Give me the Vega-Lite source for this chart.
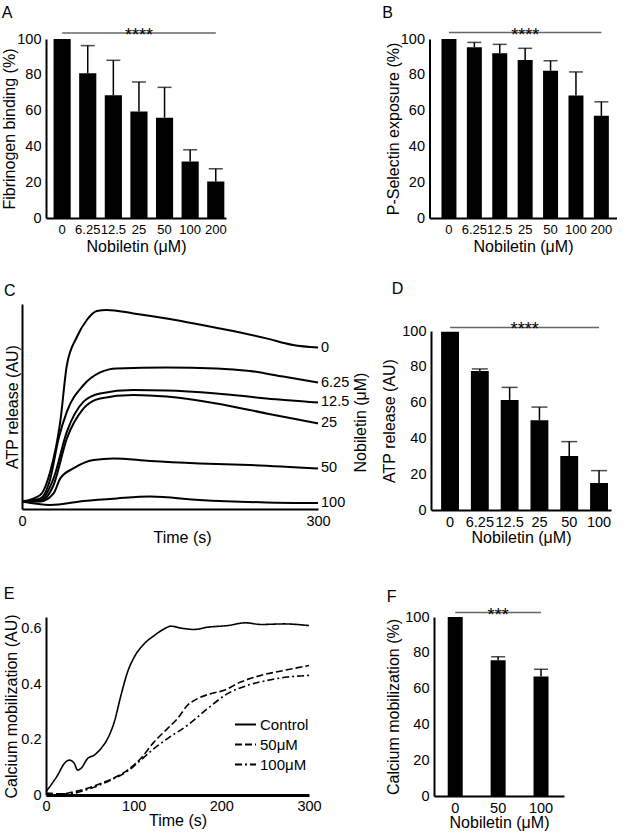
{
  "$schema": "https://vega.github.io/schema/vega-lite/v6.json",
  "padding": {"left": 1, "top": 4, "right": 0, "bottom": 0},
  "background": "white",
  "config": {
    "font": "Liberation Sans",
    "view": {"stroke": null},
    "axis": {"domainColor": "black", "domainWidth": 2, "ticks": false, "grid": false, "labelColor": "black", "titleColor": "black", "labelFontSize": 14.5, "titleFontSize": 16, "titleFontWeight": "normal", "labelFont": "Liberation Sans", "titleFont": "Liberation Sans", "labelPadding": 5, "titlePadding": 4, "labelAngle": 0, "labelFlush": false, "labelOverlap": false, "minExtent": 0},
    "axisY": {"labelOverlap": false},
    "axisQuantitative": {"labelOverlap": false},
    "title": {"anchor": "start", "frame": "bounds", "fontSize": 16, "fontWeight": "normal", "font": "Liberation Sans", "color": "black"},
    "text": {"font": "Liberation Sans", "color": "black"}
  },
  "datasets": {
    "fib": [
      {"dose": "0", "mean": 100, "upper": null},
      {"dose": "6.25", "mean": 80.9, "upper": 96.3},
      {"dose": "12.5", "mean": 68.6, "upper": 88.1},
      {"dose": "25", "mean": 59.5, "upper": 76.0},
      {"dose": "50", "mean": 56.0, "upper": 73.0},
      {"dose": "100", "mean": 31.6, "upper": 38.1},
      {"dose": "200", "mean": 20.4, "upper": 27.5}
    ],
    "psel": [
      {"dose": "0", "mean": 100, "upper": null},
      {"dose": "6.25", "mean": 95.4, "upper": 98.1},
      {"dose": "12.5", "mean": 92.0, "upper": 97.0},
      {"dose": "25", "mean": 88.3, "upper": 94.8},
      {"dose": "50", "mean": 82.3, "upper": 87.9},
      {"dose": "100", "mean": 68.4, "upper": 81.6},
      {"dose": "200", "mean": 57.1, "upper": 64.9}
    ],
    "atpbar": [
      {"dose": "0", "mean": 99.6, "upper": null},
      {"dose": "6.25", "mean": 77.6, "upper": 78.8},
      {"dose": "12.5", "mean": 61.5, "upper": 68.5},
      {"dose": "25", "mean": 50.1, "upper": 57.5},
      {"dose": "50", "mean": 30.2, "upper": 38.2},
      {"dose": "100", "mean": 15.1, "upper": 22.0}
    ],
    "cabar": [
      {"dose": "0", "mean": 100, "upper": null},
      {"dose": "50", "mean": 75.8, "upper": 77.8},
      {"dose": "100", "mean": 66.7, "upper": 70.8}
    ],
    "sigA": [{"start": "0", "end": "200", "mid": "25", "y": 103.4, "stars": "****"}],
    "sigB": [{"start": "0", "end": "200", "mid": "25", "y": 103.6, "stars": "****"}],
    "sigD": [{"start": "0", "end": "100", "mid": "12.5", "y": 102.0, "stars": "****"}],
    "sigF": [{"start": "0", "end": "100", "mid": "50", "y": 102.5, "stars": "***"}],
    "atp": [
      {"dose": "0", "t": 0, "v": 3.7}, {"dose": "0", "t": 18.5, "v": 7}, {"dose": "0", "t": 28.6, "v": 18.7}, {"dose": "0", "t": 38.8, "v": 43.7}, {"dose": "0", "t": 45.5, "v": 72}, {"dose": "0", "t": 55.6, "v": 86}, {"dose": "0", "t": 65.7, "v": 94.5}, {"dose": "0", "t": 75.8, "v": 99}, {"dose": "0", "t": 86, "v": 99.5}, {"dose": "0", "t": 113, "v": 97.8}, {"dose": "0", "t": 146.6, "v": 95.3}, {"dose": "0", "t": 180, "v": 92.3}, {"dose": "0", "t": 214, "v": 89}, {"dose": "0", "t": 247.7, "v": 85.3}, {"dose": "0", "t": 274.7, "v": 82}, {"dose": "0", "t": 300, "v": 80.7},
      {"dose": "6.25", "t": 0, "v": 3.7}, {"dose": "6.25", "t": 18.5, "v": 5.3}, {"dose": "6.25", "t": 28.6, "v": 15}, {"dose": "6.25", "t": 37, "v": 35}, {"dose": "6.25", "t": 45.5, "v": 48.7}, {"dose": "6.25", "t": 62.4, "v": 62}, {"dose": "6.25", "t": 79.2, "v": 68.3}, {"dose": "6.25", "t": 96, "v": 70.3}, {"dose": "6.25", "t": 146.6, "v": 70.7}, {"dose": "6.25", "t": 197, "v": 70.3}, {"dose": "6.25", "t": 231, "v": 69}, {"dose": "6.25", "t": 264.6, "v": 66.2}, {"dose": "6.25", "t": 300, "v": 63.2},
      {"dose": "12.5", "t": 0, "v": 3.7}, {"dose": "12.5", "t": 18.5, "v": 4.5}, {"dose": "12.5", "t": 32, "v": 15.3}, {"dose": "12.5", "t": 45.5, "v": 38.7}, {"dose": "12.5", "t": 62.4, "v": 53.7}, {"dose": "12.5", "t": 79.2, "v": 57.8}, {"dose": "12.5", "t": 113, "v": 59.5}, {"dose": "12.5", "t": 146.6, "v": 59.3}, {"dose": "12.5", "t": 197, "v": 57.8}, {"dose": "12.5", "t": 247.7, "v": 55.3}, {"dose": "12.5", "t": 300, "v": 53.3},
      {"dose": "25", "t": 0, "v": 3.7}, {"dose": "25", "t": 18.5, "v": 4}, {"dose": "25", "t": 32, "v": 12}, {"dose": "25", "t": 45.5, "v": 35.3}, {"dose": "25", "t": 62.4, "v": 50.3}, {"dose": "25", "t": 79.2, "v": 55.3}, {"dose": "25", "t": 113, "v": 57}, {"dose": "25", "t": 146.6, "v": 56.2}, {"dose": "25", "t": 197, "v": 52.8}, {"dose": "25", "t": 247.7, "v": 47.8}, {"dose": "25", "t": 300, "v": 42.8},
      {"dose": "50", "t": 0, "v": 3.7}, {"dose": "50", "t": 18.5, "v": 3.7}, {"dose": "50", "t": 32, "v": 7.8}, {"dose": "50", "t": 38.8, "v": 15.3}, {"dose": "50", "t": 52, "v": 20.3}, {"dose": "50", "t": 72.5, "v": 24.5}, {"dose": "50", "t": 92.7, "v": 25.3}, {"dose": "50", "t": 129.8, "v": 24}, {"dose": "50", "t": 180, "v": 22.8}, {"dose": "50", "t": 231, "v": 22}, {"dose": "50", "t": 300, "v": 20.3},
      {"dose": "100", "t": 0, "v": 3.7}, {"dose": "100", "t": 28.6, "v": 2}, {"dose": "100", "t": 62.4, "v": 4}, {"dose": "100", "t": 96, "v": 5.3}, {"dose": "100", "t": 129.8, "v": 6.2}, {"dose": "100", "t": 180, "v": 4.5}, {"dose": "100", "t": 247.7, "v": 3.3}, {"dose": "100", "t": 300, "v": 3}
    ],
    "ca": [
      {"series": "Control", "t": 0, "v": 0.012}, {"series": "Control", "t": 5.7, "v": 0.036}, {"series": "Control", "t": 13.3, "v": 0.072}, {"series": "Control", "t": 20.9, "v": 0.114}, {"series": "Control", "t": 26.6, "v": 0.126}, {"series": "Control", "t": 32.3, "v": 0.114}, {"series": "Control", "t": 36, "v": 0.09}, {"series": "Control", "t": 39.9, "v": 0.096}, {"series": "Control", "t": 47.5, "v": 0.132}, {"series": "Control", "t": 55, "v": 0.144}, {"series": "Control", "t": 62.7, "v": 0.168}, {"series": "Control", "t": 70.3, "v": 0.204}, {"series": "Control", "t": 77.9, "v": 0.264}, {"series": "Control", "t": 85.5, "v": 0.36}, {"series": "Control", "t": 93, "v": 0.444}, {"series": "Control", "t": 100.6, "v": 0.498}, {"series": "Control", "t": 112, "v": 0.546}, {"series": "Control", "t": 123.4, "v": 0.576}, {"series": "Control", "t": 134.8, "v": 0.6}, {"series": "Control", "t": 142.4, "v": 0.61}, {"series": "Control", "t": 153.8, "v": 0.603}, {"series": "Control", "t": 169, "v": 0.598}, {"series": "Control", "t": 184.2, "v": 0.606}, {"series": "Control", "t": 207, "v": 0.612}, {"series": "Control", "t": 227.9, "v": 0.622}, {"series": "Control", "t": 245, "v": 0.616}, {"series": "Control", "t": 271.5, "v": 0.618}, {"series": "Control", "t": 300, "v": 0.612},
      {"series": "50μM", "t": 0, "v": 0.006}, {"series": "50μM", "t": 17, "v": 0.004}, {"series": "50μM", "t": 32.3, "v": 0.012}, {"series": "50μM", "t": 47.5, "v": 0.024}, {"series": "50μM", "t": 62.7, "v": 0.042}, {"series": "50μM", "t": 77.9, "v": 0.062}, {"series": "50μM", "t": 93, "v": 0.09}, {"series": "50μM", "t": 108, "v": 0.132}, {"series": "50μM", "t": 123.4, "v": 0.192}, {"series": "50μM", "t": 138.6, "v": 0.24}, {"series": "50μM", "t": 150, "v": 0.276}, {"series": "50μM", "t": 161.4, "v": 0.324}, {"series": "50μM", "t": 172.8, "v": 0.348}, {"series": "50μM", "t": 188, "v": 0.366}, {"series": "50μM", "t": 203, "v": 0.378}, {"series": "50μM", "t": 222, "v": 0.408}, {"series": "50μM", "t": 245, "v": 0.432}, {"series": "50μM", "t": 271.5, "v": 0.45}, {"series": "50μM", "t": 300, "v": 0.468},
      {"series": "100μM", "t": 0, "v": 0.006}, {"series": "100μM", "t": 24.7, "v": 0.004}, {"series": "100μM", "t": 47.5, "v": 0.02}, {"series": "100μM", "t": 62.7, "v": 0.038}, {"series": "100μM", "t": 77.9, "v": 0.06}, {"series": "100μM", "t": 93, "v": 0.086}, {"series": "100μM", "t": 108, "v": 0.126}, {"series": "100μM", "t": 123.4, "v": 0.168}, {"series": "100μM", "t": 138.6, "v": 0.204}, {"series": "100μM", "t": 161.4, "v": 0.252}, {"series": "100μM", "t": 184.2, "v": 0.312}, {"series": "100μM", "t": 207, "v": 0.366}, {"series": "100μM", "t": 229.8, "v": 0.396}, {"series": "100μM", "t": 252.6, "v": 0.414}, {"series": "100μM", "t": 275.3, "v": 0.426}, {"series": "100μM", "t": 300, "v": 0.432}
    ]
  },
  "spacing": 27,
  "resolve": {"legend": {"strokeDash": "independent"}},
  "vconcat": [
    {
      "spacing": 154.5,
      "hconcat": [
        {
          "title": {"text": "A", "offset": 6},
          "width": 180, "height": 179,
          "layer": [
            {"data": {"name": "fib"}, "mark": {"type": "bar", "color": "black"},
             "encoding": {
               "x": {"field": "dose", "type": "nominal", "sort": null, "scale": {"domain": ["0","6.25","12.5","25","50","100","200"], "paddingInner": 0.33, "paddingOuter": 0.18, "align": 0.82}, "axis": {"title": "Nobiletin (μM)", "titlePadding": 2, "labelFontSize": 13, "labelOverlap": false}},
               "y": {"field": "mean", "type": "quantitative", "scale": {"domain": [0, 100], "nice": false}, "axis": {"title": "Fibrinogen binding (%)", "values": [0, 20, 40, 60, 80, 100], "titlePadding": -1, "labelOverlap": false}}
             }},
            {"data": {"name": "fib"}, "transform": [{"filter": "datum.upper != null"}], "mark": {"type": "rule", "strokeWidth": 1.5, "color": "black"},
             "encoding": {"x": {"field": "dose", "type": "nominal", "sort": null, "axis": {"title": "Nobiletin (μM)", "titlePadding": 2, "labelFontSize": 13, "labelOverlap": false}}, "y": {"field": "mean", "type": "quantitative", "axis": {"title": "Fibrinogen binding (%)", "values": [0, 20, 40, 60, 80, 100], "titlePadding": -1, "labelOverlap": false}}, "y2": {"field": "upper"}}},
            {"data": {"name": "fib"}, "transform": [{"filter": "datum.upper != null"}], "mark": {"type": "tick", "thickness": 1.5, "size": 14, "color": "black"},
             "encoding": {"x": {"field": "dose", "type": "nominal", "sort": null, "axis": {"title": "Nobiletin (μM)", "titlePadding": 2, "labelFontSize": 13, "labelOverlap": false}}, "y": {"field": "upper", "type": "quantitative", "axis": {"title": "Fibrinogen binding (%)", "values": [0, 20, 40, 60, 80, 100], "titlePadding": -1, "labelOverlap": false}}}},
            {"data": {"name": "sigA"}, "mark": {"type": "rule", "color": "#666666", "strokeWidth": 1.5},
             "encoding": {"x": {"field": "start", "type": "nominal", "sort": null, "axis": {"title": "Nobiletin (μM)", "titlePadding": 2, "labelFontSize": 13, "labelOverlap": false}}, "x2": {"field": "end"}, "y": {"field": "y", "type": "quantitative", "axis": {"title": "Fibrinogen binding (%)", "values": [0, 20, 40, 60, 80, 100], "titlePadding": -1, "labelOverlap": false}}}},
            {"data": {"name": "sigA"}, "mark": {"type": "text", "fontSize": 18, "baseline": "alphabetic", "dy": 8},
             "encoding": {"x": {"field": "mid", "type": "nominal", "sort": null, "axis": {"title": "Nobiletin (μM)", "titlePadding": 2, "labelFontSize": 13, "labelOverlap": false}}, "y": {"field": "y", "type": "quantitative", "axis": {"title": "Fibrinogen binding (%)", "values": [0, 20, 40, 60, 80, 100], "titlePadding": -1, "labelOverlap": false}}, "text": {"field": "stars"}}}
          ]
        },
        {
          "title": {"text": "B", "offset": 6, "dx": -3},
          "width": 187, "height": 179,
          "layer": [
            {"data": {"name": "psel"}, "mark": {"type": "bar", "color": "black"},
             "encoding": {
               "x": {"field": "dose", "type": "nominal", "sort": null, "scale": {"domain": ["0","6.25","12.5","25","50","100","200"], "paddingInner": 0.41, "paddingOuter": 0.386, "align": 0.61}, "axis": {"title": "Nobiletin (μM)", "titlePadding": 2, "labelFontSize": 13, "labelOverlap": false}},
               "y": {"field": "mean", "type": "quantitative", "scale": {"domain": [0, 100], "nice": false}, "axis": {"title": "P-Selectin exposure (%)", "values": [0, 20, 40, 60, 80, 100], "titlePadding": -1, "labelOverlap": false}}
             }},
            {"data": {"name": "psel"}, "transform": [{"filter": "datum.upper != null"}], "mark": {"type": "rule", "strokeWidth": 1.5, "color": "black"},
             "encoding": {"x": {"field": "dose", "type": "nominal", "sort": null, "axis": {"title": "Nobiletin (μM)", "titlePadding": 2, "labelFontSize": 13, "labelOverlap": false}}, "y": {"field": "mean", "type": "quantitative", "axis": {"title": "P-Selectin exposure (%)", "values": [0, 20, 40, 60, 80, 100], "titlePadding": -1, "labelOverlap": false}}, "y2": {"field": "upper"}}},
            {"data": {"name": "psel"}, "transform": [{"filter": "datum.upper != null"}], "mark": {"type": "tick", "thickness": 1.5, "size": 14, "color": "black"},
             "encoding": {"x": {"field": "dose", "type": "nominal", "sort": null, "axis": {"title": "Nobiletin (μM)", "titlePadding": 2, "labelFontSize": 13, "labelOverlap": false}}, "y": {"field": "upper", "type": "quantitative", "axis": {"title": "P-Selectin exposure (%)", "values": [0, 20, 40, 60, 80, 100], "titlePadding": -1, "labelOverlap": false}}}},
            {"data": {"name": "sigB"}, "mark": {"type": "rule", "color": "#666666", "strokeWidth": 1.5},
             "encoding": {"x": {"field": "start", "type": "nominal", "sort": null, "axis": {"title": "Nobiletin (μM)", "titlePadding": 2, "labelFontSize": 13, "labelOverlap": false}}, "x2": {"field": "end"}, "y": {"field": "y", "type": "quantitative", "axis": {"title": "P-Selectin exposure (%)", "values": [0, 20, 40, 60, 80, 100], "titlePadding": -1, "labelOverlap": false}}}},
            {"data": {"name": "sigB"}, "mark": {"type": "text", "fontSize": 18, "baseline": "alphabetic", "dy": 8},
             "encoding": {"x": {"field": "mid", "type": "nominal", "sort": null, "axis": {"title": "Nobiletin (μM)", "titlePadding": 2, "labelFontSize": 13, "labelOverlap": false}}, "y": {"field": "y", "type": "quantitative", "axis": {"title": "P-Selectin exposure (%)", "values": [0, 20, 40, 60, 80, 100], "titlePadding": -1, "labelOverlap": false}}, "text": {"field": "stars"}}}
          ]
        }
      ]
    },
    {
      "spacing": 39,
      "resolve": {"legend": {"strokeDash": "independent"}},
      "vconcat": [
        {
          "spacing": 13,
          "hconcat": [
            {
              "title": {"text": "C", "offset": 7},
              "width": 272, "height": 178,
              "data": {"name": "atp"},
              "layer": [
                {"mark": {"type": "line", "color": "black", "strokeWidth": 2, "interpolate": "monotone"},
                 "encoding": {
                   "x": {"field": "t", "type": "quantitative", "scale": {"domain": [0, 300], "nice": false, "range": [-24, 272]}, "axis": {"title": "Time (s)", "values": [0, 300], "titlePadding": 2, "titleX": 136}},
                   "y": {"field": "v", "type": "quantitative", "scale": {"domain": [0, 102.5], "nice": false, "range": [178, -27]}, "axis": {"title": "ATP release (AU)", "labels": false, "titlePadding": 2, "offset": 24}},
                   "detail": {"field": "dose", "type": "nominal"}
                 }},
                {"transform": [{"filter": "datum.t == 300"}], "mark": {"type": "text", "align": "left", "baseline": "middle", "dx": 3, "fontSize": 14.5},
                 "encoding": {
                   "x": {"field": "t", "type": "quantitative", "axis": {"title": "Time (s)", "values": [0, 300], "titlePadding": 2, "titleX": 136}},
                   "y": {"field": "v", "type": "quantitative", "axis": {"orient": "right", "title": "Nobiletin (μM)", "labels": false, "domain": false, "titleAngle": 270, "titlePadding": 50, "titleY": 91}},
                   "text": {"field": "dose"}
                 }}
              ],
              "resolve": {"axis": {"y": "independent"}}
            },
            {
              "title": {"text": "D", "offset": 24, "dx": 10},
              "width": 180, "height": 179,
              "layer": [
                {"data": {"name": "atpbar"}, "mark": {"type": "bar", "color": "black"},
                 "encoding": {
                   "x": {"field": "dose", "type": "nominal", "sort": null, "scale": {"domain": ["0","6.25","12.5","25","50","100"], "paddingInner": 0.4, "paddingOuter": 0.22, "align": 0.77}, "axis": {"title": "Nobiletin (μM)", "titlePadding": 1, "labelOverlap": false}},
                   "y": {"field": "mean", "type": "quantitative", "scale": {"domain": [0, 100], "nice": false}, "axis": {"title": "ATP release (AU)", "values": [0, 20, 40, 60, 80, 100], "titlePadding": 4, "labelOverlap": false}}
                 }},
                {"data": {"name": "atpbar"}, "transform": [{"filter": "datum.upper != null"}], "mark": {"type": "rule", "strokeWidth": 1.5, "color": "black"},
                 "encoding": {"x": {"field": "dose", "type": "nominal", "sort": null, "axis": {"title": "Nobiletin (μM)", "titlePadding": 1, "labelOverlap": false}}, "y": {"field": "mean", "type": "quantitative", "axis": {"title": "ATP release (AU)", "values": [0, 20, 40, 60, 80, 100], "titlePadding": 4, "labelOverlap": false}}, "y2": {"field": "upper"}}},
                {"data": {"name": "atpbar"}, "transform": [{"filter": "datum.upper != null"}], "mark": {"type": "tick", "thickness": 1.5, "size": 16, "color": "black"},
                 "encoding": {"x": {"field": "dose", "type": "nominal", "sort": null, "axis": {"title": "Nobiletin (μM)", "titlePadding": 1, "labelOverlap": false}}, "y": {"field": "upper", "type": "quantitative", "axis": {"title": "ATP release (AU)", "values": [0, 20, 40, 60, 80, 100], "titlePadding": 4, "labelOverlap": false}}}},
                {"data": {"name": "sigD"}, "mark": {"type": "rule", "color": "#666666", "strokeWidth": 1.5},
                 "encoding": {"x": {"field": "start", "type": "nominal", "sort": null, "axis": {"title": "Nobiletin (μM)", "titlePadding": 1, "labelOverlap": false}}, "x2": {"field": "end"}, "y": {"field": "y", "type": "quantitative", "axis": {"title": "ATP release (AU)", "values": [0, 20, 40, 60, 80, 100], "titlePadding": 4, "labelOverlap": false}}}},
                {"data": {"name": "sigD"}, "mark": {"type": "text", "fontSize": 18, "baseline": "alphabetic", "dy": 8, "dx": 15},
                 "encoding": {"x": {"field": "mid", "type": "nominal", "sort": null, "axis": {"title": "Nobiletin (μM)", "titlePadding": 1, "labelOverlap": false}}, "y": {"field": "y", "type": "quantitative", "axis": {"title": "ATP release (AU)", "values": [0, 20, 40, 60, 80, 100], "titlePadding": 4, "labelOverlap": false}}, "text": {"field": "stars"}}}
              ]
            }
          ]
        },
        {
          "spacing": 63,
          "resolve": {"legend": {"strokeDash": "independent"}},
          "hconcat": [
            {
              "title": {"text": "E", "offset": 12},
              "width": 263, "height": 178,
              "data": {"name": "ca"},
              "mark": {"type": "line", "color": "black", "strokeWidth": 1.6, "interpolate": "monotone"},
              "encoding": {
                "x": {"field": "t", "type": "quantitative", "scale": {"domain": [0, 300], "nice": false}, "axis": {"title": "Time (s)", "values": [0, 100, 200, 300], "titlePadding": 0, "labelPadding": 4, "domainWidth": 3, "labelOverlap": false}},
                "y": {"field": "v", "type": "quantitative", "scale": {"domain": [0, 0.643], "nice": false}, "axis": {"title": "Calcium mobilization (AU)", "values": [0, 0.2, 0.4, 0.6], "format": ".1~f", "titlePadding": 1, "labelOverlap": false}},
                "strokeDash": {"field": "series", "type": "nominal", "scale": {"domain": ["Control", "50μM", "100μM"], "range": [[1, 0], [7, 3], [7, 3, 2, 3]]},
                  "legend": {"orient": "none", "legendX": 188, "legendY": 96, "title": null, "symbolType": "stroke", "symbolSize": 440, "symbolStrokeWidth": 2, "symbolStrokeColor": "black", "labelFontSize": 15, "labelFont": "Liberation Sans", "labelColor": "black", "rowPadding": 0, "labelOffset": 3}}
              }
            },
            {
              "title": {"text": "F", "offset": 2, "dx": 1},
              "width": 130, "height": 179,
              "layer": [
                {"data": {"name": "cabar"}, "mark": {"type": "bar", "color": "black"},
                 "encoding": {
                   "x": {"field": "dose", "type": "nominal", "sort": null, "scale": {"domain": ["0","50","100"], "paddingInner": 0.65, "paddingOuter": 0.34, "align": 0.47}, "axis": {"title": "Nobiletin (μM)", "titlePadding": 0, "labelOverlap": false}},
                   "y": {"field": "mean", "type": "quantitative", "scale": {"domain": [0, 100], "nice": false}, "axis": {"title": "Calcium mobilization (%)", "values": [0, 20, 40, 60, 80, 100], "titlePadding": 3, "labelOverlap": false}}
                 }},
                {"data": {"name": "cabar"}, "transform": [{"filter": "datum.upper != null"}], "mark": {"type": "rule", "strokeWidth": 1.5, "color": "black"},
                 "encoding": {"x": {"field": "dose", "type": "nominal", "sort": null, "axis": {"title": "Nobiletin (μM)", "titlePadding": 0, "labelOverlap": false}}, "y": {"field": "mean", "type": "quantitative", "axis": {"title": "Calcium mobilization (%)", "values": [0, 20, 40, 60, 80, 100], "titlePadding": 3, "labelOverlap": false}}, "y2": {"field": "upper"}}},
                {"data": {"name": "cabar"}, "transform": [{"filter": "datum.upper != null"}], "mark": {"type": "tick", "thickness": 1.5, "size": 14, "color": "black"},
                 "encoding": {"x": {"field": "dose", "type": "nominal", "sort": null, "axis": {"title": "Nobiletin (μM)", "titlePadding": 0, "labelOverlap": false}}, "y": {"field": "upper", "type": "quantitative", "axis": {"title": "Calcium mobilization (%)", "values": [0, 20, 40, 60, 80, 100], "titlePadding": 3, "labelOverlap": false}}}},
                {"data": {"name": "sigF"}, "mark": {"type": "rule", "color": "#666666", "strokeWidth": 1.5},
                 "encoding": {"x": {"field": "start", "type": "nominal", "sort": null, "axis": {"title": "Nobiletin (μM)", "titlePadding": 0, "labelOverlap": false}}, "x2": {"field": "end"}, "y": {"field": "y", "type": "quantitative", "axis": {"title": "Calcium mobilization (%)", "values": [0, 20, 40, 60, 80, 100], "titlePadding": 3, "labelOverlap": false}}}},
                {"data": {"name": "sigF"}, "mark": {"type": "text", "fontSize": 18, "baseline": "alphabetic", "dy": 8},
                 "encoding": {"x": {"field": "mid", "type": "nominal", "sort": null, "axis": {"title": "Nobiletin (μM)", "titlePadding": 0, "labelOverlap": false}}, "y": {"field": "y", "type": "quantitative", "axis": {"title": "Calcium mobilization (%)", "values": [0, 20, 40, 60, 80, 100], "titlePadding": 3, "labelOverlap": false}}, "text": {"field": "stars"}}}
              ]
            }
          ]
        }
      ]
    }
  ]
}
